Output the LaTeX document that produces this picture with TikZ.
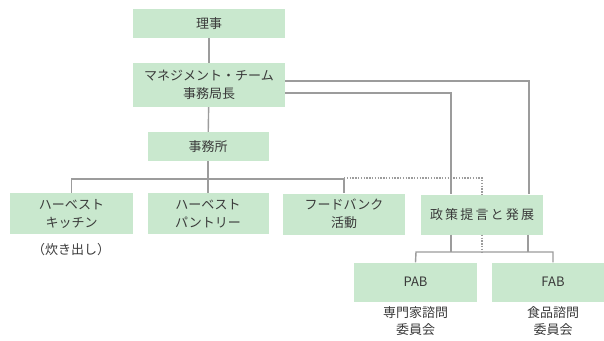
\documentclass[tikz,border=0pt]{standalone}
\usepackage{fontspec}
\setmainfont{Noto Sans CJK JP}
\begin{document}
\begin{tikzpicture}[x=1pt,y=-1pt,
  box/.style={rectangle,fill=boxgreen,draw=none,inner sep=0pt,align=center,
    text=txtgray,font=\fontsize{13}{18}\selectfont},
  conn/.style={draw=linegray,line width=1.4pt},
  dotconn/.style={draw=linegray,line width=1.4pt,dash pattern=on 1.4pt off 1.4pt},
  lbl/.style={align=center,text=txtgray,inner sep=0pt,font=\fontsize{13}{17}\selectfont}]
\definecolor{boxgreen}{HTML}{C9E8CE}
\definecolor{linegray}{HTML}{9C9C9C}
\definecolor{txtgray}{HTML}{3A3A3A}
\useasboundingbox (0,0) rectangle (604,340);
\clip (0,0) rectangle (604,340);
\fill[white] (0,0) rectangle (604,340);
% boxes
\node[box,minimum width=152pt,minimum height=29pt] (riji) at (209,23.5) {理事};
\node[box,minimum width=152pt,minimum height=44pt] (mgmt) at (209,85) {マネジメント・チーム\\事務局長};
\node[box,minimum width=121pt,minimum height=29pt] (office) at (208,146.5) {事務所};
\node[box,minimum width=123pt,minimum height=41pt] (kitchen) at (71.5,213.5) {ハーベスト\\キッチン};
\node[box,minimum width=121pt,minimum height=41pt] (pantry) at (208,213.5) {ハーベスト\\パントリー};
\node[box,minimum width=122pt,minimum height=41pt] (food) at (344,214) {フードバンク\\活動};
\node[box,minimum width=122pt,minimum height=40pt] (policy) at (482,214.5) {政\,策\,提\,言\,と\,発\,展};
\node[box,minimum width=123pt,minimum height=39pt] (pab) at (415.5,282) {PAB};
\node[box,minimum width=122pt,minimum height=39pt] (fab) at (553,282) {FAB};
% labels
\node[lbl] (kl) at (71,250) {（炊き出し）};
\node[lbl] (pl) at (415.5,321.5) {専門家諮問\\委員会};
\node[lbl] (fl) at (553,321.5) {食品諮問\\委員会};
% coordinates
\coordinate (bus) at (208,179);
\coordinate (dc) at (482,178);
\coordinate (m1) at (529,81);
\coordinate (m2) at (451,93);
\coordinate (pb) at (416,252);
\coordinate (fb) at (553,252);
% connectors
\draw[conn] (riji) -- (mgmt);
\draw[conn] (mgmt) -- (office);
\draw[conn] (office.south) -- (bus);
\draw[conn] (kitchen.north) |- (bus) -| (food.north);
\draw[conn] (bus) -- (pantry.north);
\draw[dotconn] (food.north |- dc) -- (dc) -- (policy.north);
\draw[dotconn] (policy.south) -- (policy.south |- pb);
\draw[conn] ([yshift=4pt]mgmt.east) -- (m1) -- (m1 |- policy.north);
\draw[conn] ([yshift=-8pt]mgmt.east) -- (m2) -- (m2 |- policy.north);
\draw[conn] (m2 |- policy.south) -- (m2 |- pb);
\draw[conn] ([xshift=-1pt]m1 |- policy.south) -- ([xshift=-1pt]m1 |- pb);
\draw[conn] (pab.north) -- (pb) -- (fb) -- (fab.north);
\end{tikzpicture}
\end{document}
